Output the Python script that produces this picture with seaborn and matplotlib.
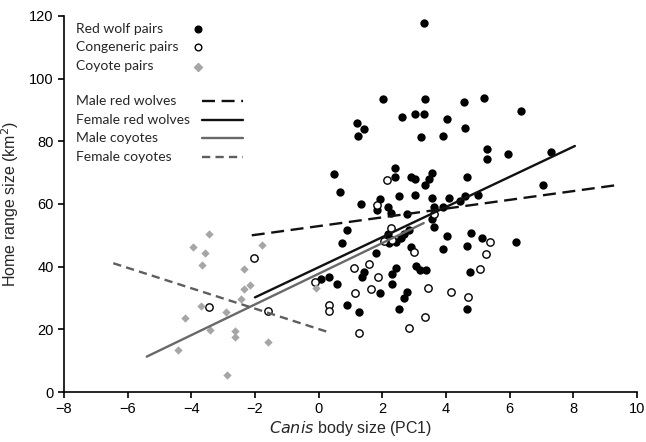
import seaborn as sns
import matplotlib.pyplot as plt
from matplotlib.lines import Line2D

## Red wolf pairs (filled circles)
wolf_x = [3.32, 2.01, 3.34, 4.56, 5.19, 6.35, 1.22, 1.43, 1.24, 2.62, 3.03, 3.32, 4.03, 4.61,
          3.22, 3.92, 5.29, 5.29, 5.94, 7.31, 0.48, 2.41, 2.40, 2.89, 3.03, 3.55, 3.46, 3.33,
          4.67, 7.06, 0.66, 1.33, 1.94, 1.83, 2.17, 2.27, 2.54, 3.03, 2.78, 3.55, 4.09, 4.45,
          4.60, 5.01, 3.64, 3.90, 3.57, 3.64, 4.04, 4.78, 5.14, 6.21, 3.90, 4.67, 0.88, 0.73,
          2.17, 2.85, 2.69, 2.59, 2.43, 2.22, 1.80, 2.90, 4.74, 1.41, 1.36, 2.43, 2.31, 3.06,
          3.19, 3.38, 0.07, 0.33, 0.59, 2.31, 1.93, 2.77, 2.69, 0.89, 1.28, 2.54, 4.67]
wolf_y = [117.7, 93.4, 93.4, 92.5, 93.7, 89.8, 85.8, 84.0, 81.6, 87.7, 88.8, 88.8, 87.0, 84.4,
          81.5, 81.7, 77.5, 74.3, 76.1, 76.7, 69.7, 71.4, 68.7, 68.5, 67.9, 69.8, 68.0, 65.9,
          68.7, 65.9, 63.9, 59.9, 61.5, 58.1, 59.1, 57.0, 62.6, 62.9, 56.8, 61.9, 61.9, 61.0,
          62.5, 63.0, 59.1, 59.1, 55.1, 52.8, 49.9, 50.9, 49.3, 47.9, 45.7, 46.7, 51.7, 47.5,
          50.3, 51.7, 50.4, 49.0, 48.0, 47.5, 44.3, 46.4, 38.4, 38.4, 36.8, 39.5, 37.7, 40.2,
          38.9, 38.9, 36.0, 36.8, 34.5, 34.5, 31.7, 31.8, 29.9, 27.8, 25.6, 26.5, 26.5]

## Congeneric pairs (open circles)
cong_x = [-2.03, -3.43, -1.60, -0.11, 0.33, 0.33, 1.12, 1.57, 1.88, 1.65, 1.15, 1.28, 2.85,
          3.35, 3.43, 2.99, 4.16, 4.69, 5.08, 5.27, 5.37, 3.61, 2.27, 2.04, 2.29, 1.82, 2.14]
cong_y = [42.8, 27.2, 25.9, 35.1, 27.8, 25.9, 39.7, 40.9, 36.6, 32.9, 31.5, 18.9, 20.3,
          24.0, 33.3, 44.8, 32.0, 30.4, 39.2, 43.9, 47.9, 56.7, 52.2, 48.2, 48.5, 59.7, 67.5]

## Coyote pairs (grey diamonds)
coy_x = [-3.45, -3.94, -3.57, -3.66, -1.77, -2.35, -2.14, -2.35, -2.43, -3.71, -4.20, -2.90,
         -3.40, -2.64, -2.64, -1.58, -4.43, -2.89, -0.09]
coy_y = [50.4, 46.4, 44.3, 40.5, 46.8, 39.3, 34.2, 32.9, 29.6, 27.6, 23.7, 25.4,
         19.8, 19.6, 17.7, 16.1, 13.3, 5.5, 33.1]

## Fitted lines (end points)
line_labels = ['Male red wolves', 'Female red wolves', 'Male coyotes', 'Female coyotes']
line_x = [[-2.1, 9.35], [-2.0, 8.05], [-5.4, 3.3], [-6.45, 0.25]]
line_y = [[50.0, 66.0], [30.2, 78.5], [11.3, 53.9], [41.1, 19.3]]

point_labels = ['Red wolf pairs', 'Congeneric pairs', 'Coyote pairs']

if __name__ == '__main__':

    sns.set_style('ticks')
    plt.rcParams['font.family'] = ['Liberation Sans', 'DejaVu Sans']

    fig = plt.figure(figsize=(6.46, 4.42), dpi=100)
    ax = fig.add_axes([0.099, 0.113, 0.887, 0.851])

    ## points
    sns.scatterplot(x=wolf_x, y=wolf_y, color='black', s=36, linewidth=0, ax=ax, zorder=2)
    sns.scatterplot(x=cong_x, y=cong_y, marker='o', s=28, facecolor='white',
                    edgecolor='black', linewidth=1.0, ax=ax, zorder=2)
    sns.scatterplot(x=coy_x, y=coy_y, marker='D', s=18, color='#a6a6a6', linewidth=0,
                    ax=ax, zorder=3)

    ## lines
    line_styles = [dict(color='#111111', linestyle=(0, (5.5, 2.8))),
                   dict(color='#111111', linestyle='-'),
                   dict(color='#696969', linestyle='-'),
                   dict(color='#5e5e5e', linestyle=(0, (3.5, 2.2)))]
    for lx, ly, st in zip(line_x, line_y, line_styles):
        sns.lineplot(x=lx, y=ly, lw=1.7, ax=ax, zorder=4, **st)

    ax.set_xlim(-8, 10)
    ax.set_ylim(0, 120)
    ax.set_xticks(range(-8, 11, 2))
    ax.set_yticks(range(0, 121, 20))
    for side in ['top', 'right']:
        ax.spines[side].set_visible(False)
    for side in ['left', 'bottom']:
        ax.spines[side].set_linewidth(1.2)
        ax.spines[side].set_color('black')
    ax.tick_params(width=1.2, length=4, labelsize=10.5, colors='black')

    ax.set_xlabel('$\\it{Canis}$ body size (PC1)', fontsize=11.5, labelpad=2)
    ax.set_ylabel('Home range size (km$^2$)', fontsize=11.5, labelpad=6)

    ## legend drawn by hand (text left aligned, keys on the right)
    W, H = 646.0, 442.0
    txt_x = 76 / W
    rows_pts = [29, 47, 66]
    rows_lin = [101, 120, 138, 157]
    leg_font = ['Lato', 'DejaVu Sans']
    for lab, yy in zip(point_labels, rows_pts):
        fig.text(txt_x, 1 - yy / H, lab, fontsize=10, family=leg_font, va='center')
    for lab, yy in zip(line_labels, rows_lin):
        fig.text(txt_x, 1 - yy / H, lab, fontsize=10, family=leg_font, va='center')

    mk = 198 / W
    fig.add_artist(Line2D([mk], [1 - 29 / H], marker='o', ms=4.8, color='black', lw=0,
                          transform=fig.transFigure))
    fig.add_artist(Line2D([mk], [1 - 47 / H], marker='o', ms=4.8, mfc='white', mec='black',
                          mew=1.0, lw=0, transform=fig.transFigure))
    fig.add_artist(Line2D([mk], [1 - 67 / H], marker='D', ms=3.7, color='#a6a6a6', lw=0,
                          transform=fig.transFigure))
    for yy, st in zip(rows_lin, line_styles):
        fig.add_artist(Line2D([202 / W, 243 / W], [1 - yy / H, 1 - yy / H], lw=1.7,
                              transform=fig.transFigure, **st))

    fig.savefig('out.png', dpi=100)
